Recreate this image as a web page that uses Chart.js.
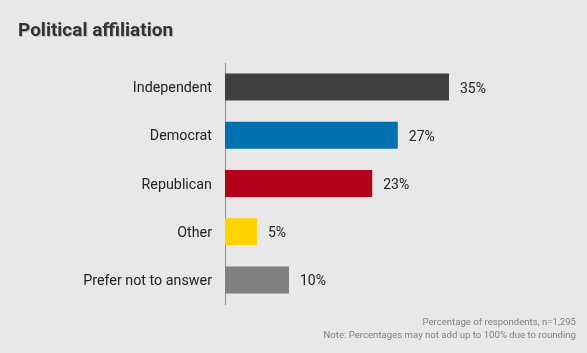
<!DOCTYPE html>
<html>
<head>
<meta charset="utf-8">
<script src="https://cdn.jsdelivr.net/npm/chart.js@4"></script>
<style>
  html, body { margin: 0; padding: 0; background: #e8e8e8; }
  #wrap { position: relative; width: 587px; height: 353px; }
  #title {
    position: absolute; left: 18px; top: 18px;
    font-family: Roboto, sans-serif; font-weight: 700; font-size: 19px;
    color: #333; text-shadow: 1px 1px 0 rgba(120, 80, 40, 0.25);
  }
  #note {
    position: absolute; right: 11px; top: 315px; text-align: right;
    font-family: Roboto, sans-serif; font-size: 9.6px; line-height: 13px; color: #808080;
  }
</style>
</head>
<body>
<div id="wrap">
  <canvas id="chart" width="587" height="353"></canvas>
  <div id="title">Political affiliation</div>
  <div id="note">Percentage of respondents, n=1,295<br>Note: Percentages may not add up to 100% due to rounding</div>
</div>
<script>
const categories = ["Independent", "Democrat", "Republican", "Other", "Prefer not to answer"];
const values = [35, 27, 23, 5, 10];
const barColors = ["#404040", "#0070b0", "#b5001b", "#ffd200", "#808080"];

// percentage labels at the end of each bar
const valueLabels = {
  id: "valueLabels",
  afterDatasetsDraw(chart) {
    const ctx = chart.ctx;
    const meta = chart.getDatasetMeta(0);
    ctx.save();
    ctx.font = "14px Roboto, sans-serif";
    ctx.fillStyle = "#222";
    ctx.textAlign = "left";
    ctx.textBaseline = "middle";
    meta.data.forEach((bar, i) => {
      ctx.fillText(values[i] + "%", bar.x + 11, bar.y + 2);
    });
    ctx.restore();
  }
};

new Chart(document.getElementById("chart"), {
  type: "bar",
  data: {
    labels: categories,
    datasets: [{
      data: values,
      backgroundColor: barColors,
      barPercentage: 0.56,
      categoryPercentage: 1
    }]
  },
  options: {
    indexAxis: "y",
    responsive: false,
    animation: false,
    layout: { padding: { top: 63, bottom: 49, left: 0, right: 42 } },
    scales: {
      x: { display: false, min: 0, max: 50 },
      y: {
        afterFit(scale) { scale.width = 225; },
        grid: { display: false },
        border: { display: true, color: "#888", width: 1 },
        ticks: {
          padding: 5,
          labelOffset: 1.5,
          color: "#222",
          font: { family: "Roboto, sans-serif", size: 14.3 }
        }
      }
    },
    plugins: {
      legend: { display: false },
      tooltip: { enabled: false }
    }
  },
  plugins: [valueLabels]
});
</script>
</body>
</html>
